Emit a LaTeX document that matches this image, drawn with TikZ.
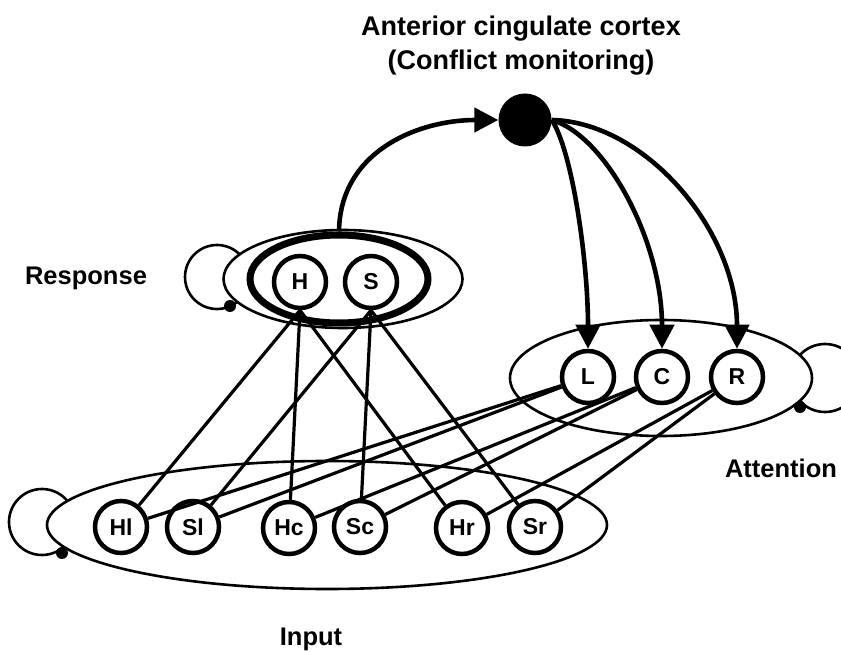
\documentclass[tikz,border=0pt]{standalone}
\usepackage{fontspec}
\setmainfont{Liberation Sans}
\usetikzlibrary{arrows.meta,shapes.geometric}
\tikzset{
  unit/.style={circle,draw,line width=4.5pt,fill=white,minimum size=52pt,inner sep=0pt,
    font=\fontsize{23}{23}\selectfont\bfseries},
  lbl/.style={anchor=base,inner sep=0pt,font=\fontsize{25.5}{30}\selectfont\bfseries},
  link/.style={line width=3.2pt},
  grp/.style={ellipse,draw,line width=2.6pt,fill=white,inner sep=0pt},
  loopc/.style={line width=2.6pt},
  dotc/.style={circle,fill=black,inner sep=0pt,minimum size=12pt},
  ctrl/.style={line width=4.6pt,-{Triangle[length=24pt,width=24pt]}},
}
\begin{document}
\begin{tikzpicture}[x=1pt,y=-1pt]
\useasboundingbox (0,0) rectangle (841,652);

% self loops (drawn first, partly hidden by the groups)
\draw[loopc] (42,522) circle[radius=33pt];
\draw[loopc] (217,277) circle[radius=32pt];
\draw[loopc] (825,378) circle[radius=34pt];

% groups
\node[grp,minimum width=560pt,minimum height=128pt] (inp) at (327,525) {};
\node[grp,minimum width=302pt,minimum height=116pt] (att) at (661,378) {};
\node[grp,minimum width=239pt,minimum height=98pt] (resp) at (343,279) {};
\node[ellipse,draw,line width=7pt,inner sep=0pt,minimum width=178pt,minimum height=88pt] (thick) at (339,279) {};

% loop dots
\node[dotc] (d1) at (62,553) {};
\node[dotc] (d2) at (230,306) {};
\node[dotc] (d3) at (800,407) {};

% units
\node[unit] (H) at (300,282) {H};
\node[unit] (S) at (371,282) {S};
\node[unit] (L) at (588,377) {L};
\node[unit] (C) at (662,377) {C};
\node[unit] (R) at (737,377) {R};
\node[unit] (Hl) at (121,527) {Hl};
\node[unit] (Sl) at (193,527) {Sl};
\node[unit] (Hc) at (289,528) {Hc};
\node[unit] (Sc) at (360,527) {Sc};
\node[unit] (Hr) at (462,528) {Hr};
\node[unit] (Sr) at (535,527) {Sr};

% input to response
\draw[link] (Hl) -- (H.south);
\draw[link] (Hc) -- (H.south);
\draw[link] (Hr) -- (H.south);
\draw[link] (Sl) -- (S.south);
\draw[link] (Sc) -- (S.south);
\draw[link] (Sr) -- (S.south);
% input to attention
\draw[link] (Hl) -- (L);
\draw[link] (Sl) -- (L);
\draw[link] (Hc) -- (C);
\draw[link] (Sc) -- (C);
\draw[link] (Hr) -- (R);
\draw[link] (Sr) -- (R);

% conflict monitoring unit
\node[circle,fill=black,inner sep=0pt,minimum size=53pt] (acc) at (525,120) {};
\draw[ctrl] (thick.north) .. controls (340,150) and (420,120) .. (acc);
\draw[ctrl] (acc.east) .. controls (572,150) and (588,260) .. (L);
\draw[ctrl] (acc.east) .. controls (605,135) and (662,240) .. (C);
\draw[ctrl] (acc.east) .. controls (645,122) and (737,230) .. (R);

% labels
\node[lbl,font=\fontsize{27}{33}\selectfont\bfseries] (t1) at (521,36) {Anterior cingulate cortex};
\node[lbl,font=\fontsize{27}{33}\selectfont\bfseries] (t2) at (521,70) {(Conflict monitoring)};
\node[lbl] (lr) at (86,285) {Response};
\node[lbl] (la) at (781,477) {Attention};
\node[lbl] (li) at (311,645) {Input};
\end{tikzpicture}
\end{document}
